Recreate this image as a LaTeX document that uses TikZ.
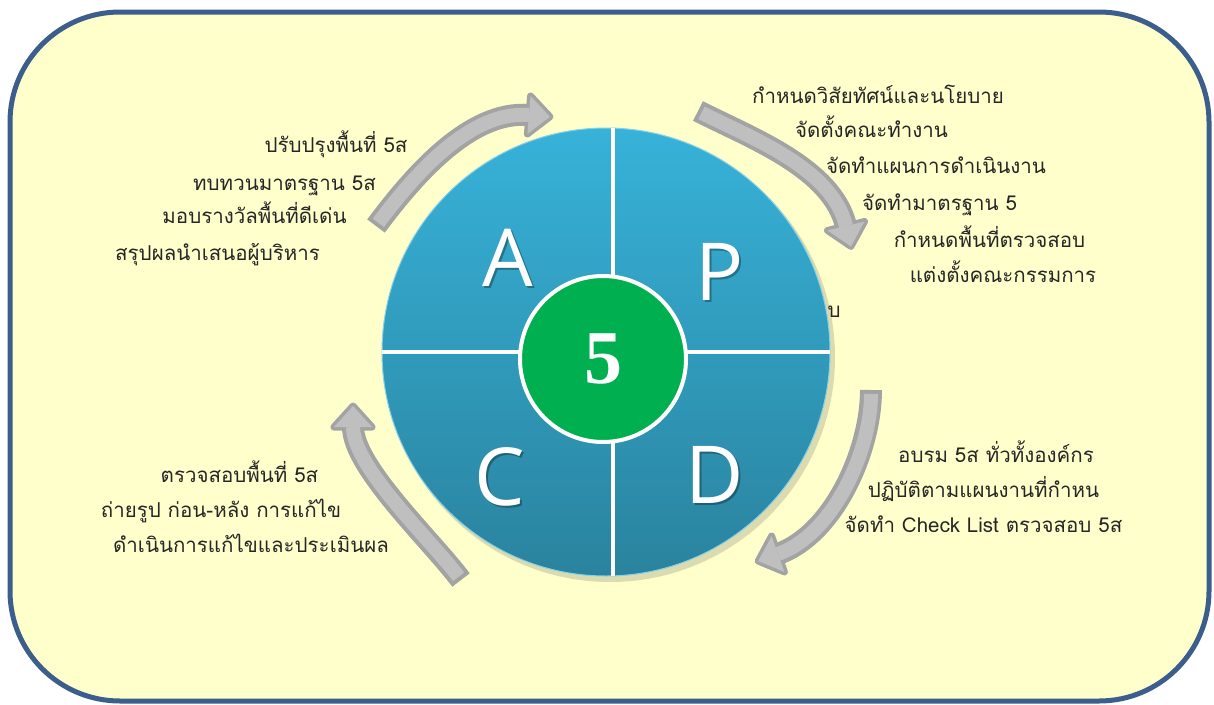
\documentclass[tikz,border=0pt]{standalone}
\usepackage{fontspec}
\usepackage{xcolor}
\usepackage{tikz}
\usetikzlibrary{calc}

\newfontfamily\thaifont[Script=Thai]{Loma}
\newfontfamily\pdcafont{Open Sans}
\newfontfamily\fivefont{Liberation Serif}

\definecolor{pagebg}{HTML}{FFFFCC}
\definecolor{framec}{HTML}{3B5E8C}
\definecolor{wheeltop}{HTML}{37B2D9}
\definecolor{wheelbot}{HTML}{2A839E}
\definecolor{hubgreen}{HTML}{00B050}
\definecolor{arrowrim}{HTML}{A3A3A3}
\definecolor{arrowbody}{HTML}{BFBFBF}
\definecolor{txt}{HTML}{262626}

% curved block arrow: tail, control, control, base of the head
\newcommand\cyclearrow[4]{%
  \draw[arrowrim, line width=22pt] (#1) .. controls (#2) and (#3) .. (#4);
  \filldraw[arrowrim, line width=7pt, line join=round]
    ($(#4)!19pt!90:(#3)$) -- ($(#4)!21pt!180:(#3)$) -- ($(#4)!19pt!-90:(#3)$) -- cycle;
  \draw[arrowbody, line width=14pt, shorten <=4pt] (#1) .. controls (#2) and (#3) .. (#4);
  \fill[arrowbody]
    ($(#4)!19pt!90:(#3)$) -- ($(#4)!21pt!180:(#3)$) -- ($(#4)!19pt!-90:(#3)$) -- cycle;
}

\begin{document}
\begin{tikzpicture}[x=1pt, y=-1pt,
  frame/.style={draw=framec, line width=5pt, fill=pagebg, rounded corners=110pt},
  divider/.style={white, line width=4pt},
  hub/.style={circle, fill=hubgreen, draw=white, line width=4pt, minimum size=166pt,
    inner sep=0pt, text=white, font=\fivefont\bfseries\fontsize{76}{76}\selectfont},
  letter/.style={text=white, inner sep=0pt, font=\pdcafont\fontsize{80}{80}\selectfont},
  item/.style={anchor=base, inner sep=0pt, text=txt, font=\thaifont\fontsize{20.5}{20.5}\selectfont}]
\useasboundingbox (0,0) rectangle (1214,704);
\fill[white] (0,0) rectangle (1214,704);
\draw[frame] (10,12) rectangle (1209,701);

% wheel
\coordinate (wheel) at (606,352);
\fill[black, opacity=0.14] ($(wheel)+(4,5)$) circle (225pt);
\shade[top color=wheeltop, bottom color=wheelbot] (wheel) circle (224pt);
\draw[white!40!wheeltop, line width=1pt] (wheel) circle (224pt);
\begin{scope}
  \clip (wheel) circle (224pt);
  \draw[divider] (613,100) -- (613,600);
  \draw[divider] (360,352) -- (850,352);
\end{scope}

\foreach \lt/\px/\py in {A/508/258, P/720/272, C/500/477, D/715/475} {
  \node[letter, text=black, opacity=0.3] (shade-\lt) at (\px+2,\py+2) {\lt};
  \node[letter] (\lt) at (\px,\py) {\lt};
}

\node[hub] (hub) at (603,359) {5};

% arrows round the wheel
\coordinate (ap-t) at (376,226); \coordinate (ap-c1) at (412,178);
\coordinate (ap-c2) at (469,110); \coordinate (ap-b) at (529,115);
\coordinate (pp-t) at (698,111); \coordinate (pp-c1) at (751,138);
\coordinate (pp-c2) at (832,168); \coordinate (pp-b) at (846,226);
\coordinate (pd-t) at (871,390); \coordinate (pd-c1) at (871,450);
\coordinate (pd-c2) at (834,534); \coordinate (pd-b) at (778,554);
\coordinate (ca-t) at (461,580); \coordinate (ca-c1) at (431,540);
\coordinate (ca-c2) at (353,467); \coordinate (ca-b) at (353,427);
\cyclearrow{ap-t}{ap-c1}{ap-c2}{ap-b}
\cyclearrow{pp-t}{pp-c1}{pp-c2}{pp-b}
\cyclearrow{pd-t}{pd-c1}{pd-c2}{pd-b}
\cyclearrow{ca-t}{ca-c1}{ca-c2}{ca-b}

% plan
\node[item] (p1) at (878,103) {กำหนดวิสัยทัศน์และนโยบาย};
\node[item] (p2) at (871.5,137) {จัดตั้งคณะทำงาน};
\node[item] (p3) at (936,173) {จัดทำแผนการดำเนินงาน};
\node[item] (p4) at (939.5,210) {จัดทำมาตรฐาน 5};
\node[item] (p5) at (989.5,247) {กำหนดพื้นที่ตรวจสอบ};
\node[item] (p6) at (1003,282) {แต่งตั้งคณะกรรมการ};
\node[item] (p7) at (834,317) {บ};

% do
\node[item] (d1) at (996,462) {อบรม 5ส ทั่วทั้งองค์กร};
\node[item] (d2) at (983.5,497) {ปฏิบัติตามแผนงานที่กำหน};
\node[item] (d3) at (983.5,532) {จัดทำ Check List ตรวจสอบ 5ส};

% check
\node[item] (c1) at (239.5,482) {ตรวจสอบพื้นที่ 5ส};
\node[item] (c2) at (221,517) {ถ่ายรูป ก่อน-หลัง การแก้ไข};
\node[item] (c3) at (251,552) {ดำเนินการแก้ไขและประเมินผล};

% act
\node[item] (a1) at (336,152) {ปรับปรุงพื้นที่ 5ส};
\node[item] (a2) at (284.5,190) {ทบทวนมาตรฐาน 5ส};
\node[item] (a3) at (254.5,223) {มอบรางวัลพื้นที่ดีเด่น};
\node[item] (a4) at (217.5,260) {สรุปผลนำเสนอผู้บริหาร};
\end{tikzpicture}
\end{document}
